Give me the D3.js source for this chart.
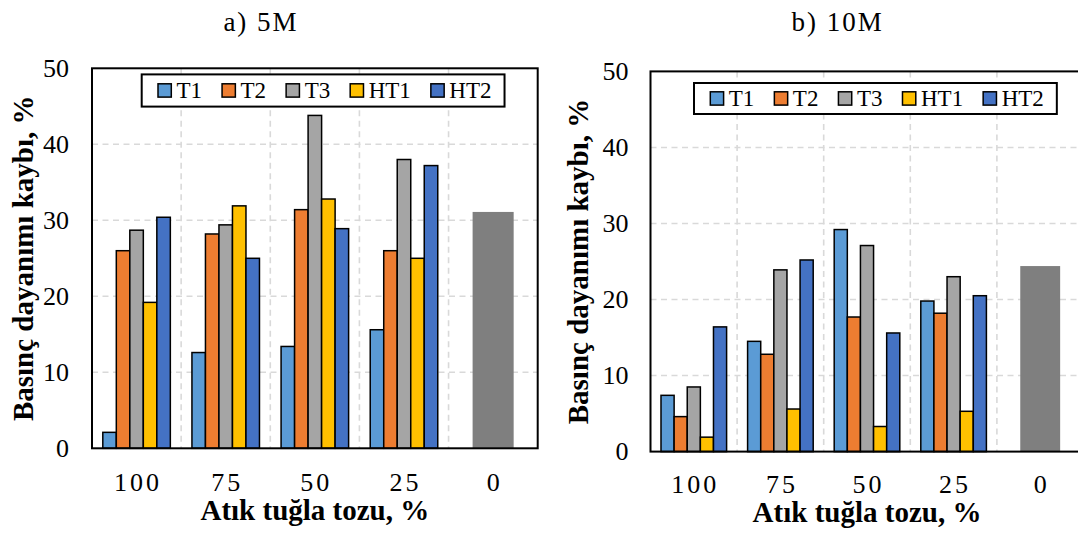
<!DOCTYPE html>
<html lang="tr">
<head>
<meta charset="utf-8">
<title>Basınç dayanımı kaybı</title>
<script src="https://cdn.jsdelivr.net/npm/d3@7"></script>
<style>
  body { margin: 0; background: #fff; }
  svg { display: block; font-family: "Liberation Serif", "Times New Roman", serif; }
  svg text { font-family: "Liberation Serif", "Times New Roman", serif; }
</style>
</head>
<body>
<svg id="chart" width="1078" height="534"></svg>
<script>
// categories (waste brick dust, %) and series
var categories = ["100", "75", "50", "25", "0"];
var series = ["T1", "T2", "T3", "HT1", "HT2"];
var colors = ["#5B9BD5", "#ED7D31", "#A5A5A5", "#FFC000", "#4472C4"];
var yTicks = [0, 10, 20, 30, 40, 50];

// a) 5M  (values for 100, 75, 50, 25)
var t1_5M  = [2.1, 12.6, 13.4, 15.6];
var t2_5M  = [26.0, 28.2, 31.4, 26.0];
var t3_5M  = [28.7, 29.4, 43.8, 38.0];
var ht1_5M = [19.2, 31.9, 32.8, 25.0];
var ht2_5M = [30.4, 25.0, 28.9, 37.2];
var ref_5M = [31.1];   // 0 %

// b) 10M
var t1_10M  = [7.4, 14.5, 29.2, 19.8];
var t2_10M  = [4.6, 12.8, 17.7, 18.2];
var t3_10M  = [8.5, 23.9, 27.1, 23.0];
var ht1_10M = [1.9, 5.6, 3.3, 5.3];
var ht2_10M = [16.4, 25.2, 15.6, 20.5];
var ref_10M = [24.4];

var svg = d3.select("#chart");

function drawChart(o) {
    var g = svg.append("g");
    var x = d3.scaleBand().domain(categories).range([o.x0, o.x1]);
    var xs = d3.scaleBand().domain(series).range([0, x.bandwidth()]).paddingOuter(0.8);
    var y = d3.scaleLinear().domain([0, 50]).range([o.y1, o.y0]);

    // grid
    g.selectAll(".hgrid").data(yTicks.slice(1, -1)).enter().append("line")
        .attr("x1", o.x0).attr("x2", o.x1)
        .attr("y1", function(d) { return y(d); }).attr("y2", function(d) { return y(d); })
        .attr("stroke", "#d9d9d9").attr("stroke-width", 1.6).attr("stroke-dasharray", "6,4.5");
    g.selectAll(".vgrid").data(categories.slice(1)).enter().append("line")
        .attr("x1", function(d) { return x(d); }).attr("x2", function(d) { return x(d); })
        .attr("y1", o.y0).attr("y2", o.y1)
        .attr("stroke", "#d9d9d9").attr("stroke-width", 1.6).attr("stroke-dasharray", "6,4.5");

    // clustered bars
    var rows = [];
    o.values.forEach(function(vals, si) {
        vals.forEach(function(v, ci) {
            rows.push({ cat: categories[ci], s: series[si], v: v, c: colors[si] });
        });
    });
    g.selectAll(".bar").data(rows).enter().append("rect")
        .attr("x", function(d) { return x(d.cat) + xs(d.s); })
        .attr("width", xs.bandwidth())
        .attr("y", function(d) { return y(d.v); })
        .attr("height", function(d) { return y(0) - y(d.v); })
        .attr("fill", function(d) { return d.c; })
        .attr("stroke", "#000").attr("stroke-width", 1.5);

    // reference bar (0 %)
    g.selectAll(".ref").data(o.ref).enter().append("rect")
        .attr("x", x("0") + x.bandwidth() / 2 - xs.bandwidth() * 1.52)
        .attr("width", xs.bandwidth() * 3.04)
        .attr("y", function(d) { return y(d); })
        .attr("height", function(d) { return y(0) - y(d); })
        .attr("fill", "#7f7f7f");

    // frame
    g.append("rect").attr("x", o.x0).attr("y", o.y0)
        .attr("width", o.x1 - o.x0).attr("height", o.y1 - o.y0)
        .attr("fill", "none").attr("stroke", "#000").attr("stroke-width", 2);

    // axes
    var ya = g.append("g").attr("transform", "translate(" + o.x0 + ",0)")
        .call(d3.axisLeft(y).tickValues(yTicks).tickSize(0).tickPadding(o.yPad))
        .attr("font-family", null).attr("font-size", null);
    ya.select(".domain").remove();
    ya.selectAll("text").attr("font-size", 26).attr("fill", "#000");

    var xa = g.append("g").attr("transform", "translate(0," + o.y1 + ")")
        .call(d3.axisBottom(x).tickSize(0))
        .attr("font-family", null).attr("font-size", null);
    xa.select(".domain").remove();
    xa.selectAll("text").attr("font-size", 26).attr("fill", "#000")
        .attr("y", o.xLabY).attr("dy", 0).attr("dx", 1.5).attr("letter-spacing", 3);

    // titles
    g.append("text").attr("x", o.titleX).attr("y", o.titleY)
        .attr("text-anchor", "middle").attr("font-size", 27).attr("letter-spacing", 2).attr("dx", 1)
        .text(o.title);
    g.append("text").attr("x", (o.x0 + o.x1) / 2).attr("y", o.y1 + o.xTitleDy)
        .attr("text-anchor", "middle").attr("font-size", 29).attr("font-weight", "bold")
        .text("Atık tuğla tozu, %");
    g.append("text")
        .attr("transform", "translate(" + o.yTitleX + "," + (o.y0 + o.y1) / 2 + ") rotate(-90)")
        .attr("text-anchor", "middle").attr("font-size", 29).attr("font-weight", "bold")
        .text("Basınç dayanımı kaybı, %");

    // legend
    var lg = g.append("g");
    var box = lg.append("rect").attr("x", o.legX).attr("y", o.legY)
        .attr("height", o.legH).attr("fill", "#fff").attr("stroke", "#000").attr("stroke-width", 2);
    var cy = o.legY + o.legH / 2;
    var cx = o.legX + 16.3;
    series.forEach(function(s, i) {
        lg.append("rect").attr("x", cx).attr("y", cy - 6.7).attr("width", 13.3).attr("height", 13.3)
            .attr("fill", colors[i]).attr("stroke", "#000").attr("stroke-width", 1.5);
        var t = lg.append("text").attr("x", cx + 18.5).attr("y", cy + 7.8)
            .attr("font-size", 23).text(s);
        cx = cx + 18.5 + t.node().getComputedTextLength();
        if (i < series.length - 1) cx += 20;
    });
    box.attr("width", cx + 13 - o.legX);
}

drawChart({
    x0: 92, x1: 537.7, y0: 68.3, y1: 448.3,
    values: [t1_5M, t2_5M, t3_5M, ht1_5M, ht2_5M], ref: ref_5M,
    title: "a) 5M", titleX: 260, titleY: 30.6,
    yPad: 23, xLabY: 42.4, xTitleDy: 72, yTitleX: 33.4,
    legX: 141.7, legY: 74.4, legH: 32.2
});
drawChart({
    x0: 650.5, x1: 1083.5, y0: 71.4, y1: 451.6,
    values: [t1_10M, t2_10M, t3_10M, ht1_10M, ht2_10M], ref: ref_10M,
    title: "b) 10M", titleX: 836.6, titleY: 31,
    yPad: 22, xLabY: 41, xTitleDy: 70.4, yTitleX: 588.3,
    legX: 694, legY: 83, legH: 31
});
</script>
</body>
</html>
